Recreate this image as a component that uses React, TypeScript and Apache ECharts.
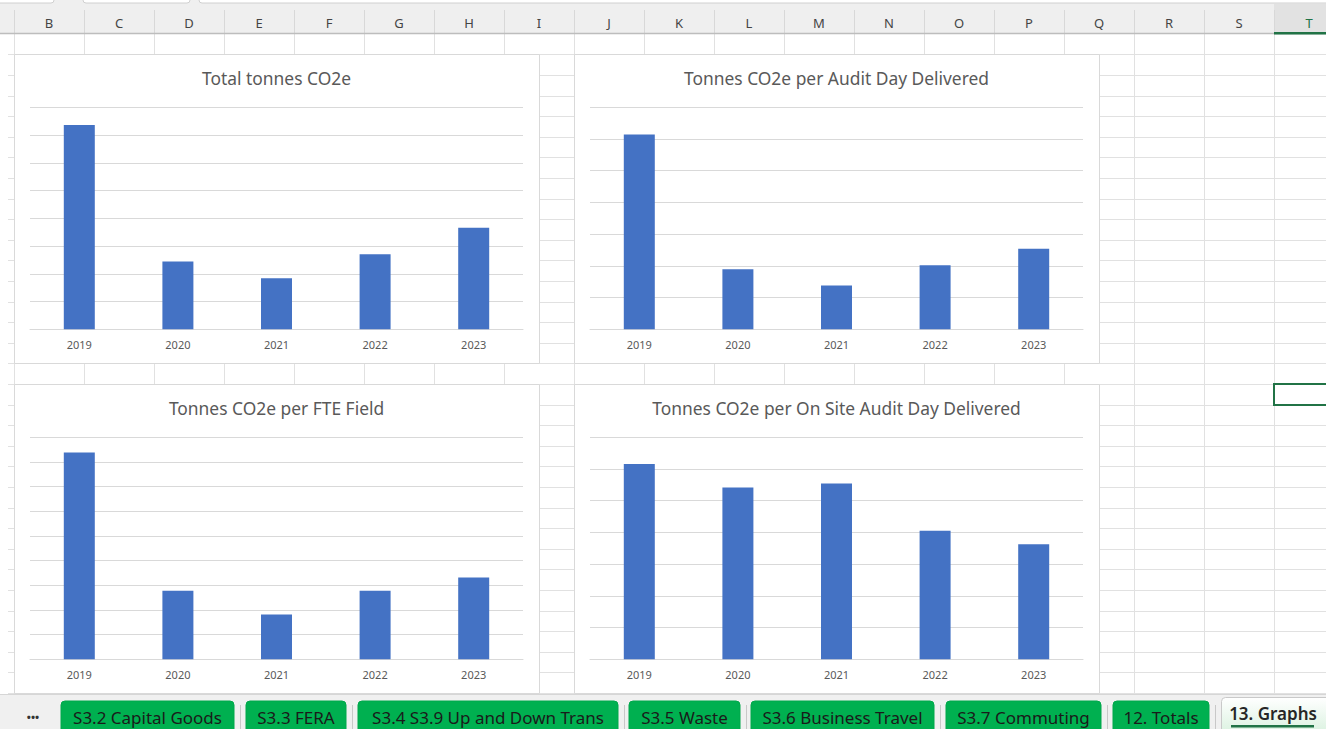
import React, { useEffect, useRef } from "react";
import * as echarts from "echarts";

// ---------------- data ----------------
const categories = ["2019", "2020", "2021", "2022", "2023"];
const totalTonnes = [368, 122, 92, 135, 183];
const perAuditDay = [0.307, 0.0945, 0.069, 0.101, 0.127];
const perFteField = [8.38, 2.78, 1.82, 2.78, 3.32];
const perOnSiteAuditDay = [0.616, 0.542, 0.554, 0.405, 0.363];

const chartTitles = [
  "Total tonnes CO2e",
  "Tonnes CO2e per Audit Day Delivered",
  "Tonnes CO2e per FTE Field",
  "Tonnes CO2e per On Site Audit Day Delivered",
];
const axisMax = [400, 0.35, 9, 0.7];
const axisInterval = [50, 0.05, 1, 0.1];

const columnLetters = ["B", "C", "D", "E", "F", "G", "H", "I", "J", "K", "L", "M", "N", "O", "P", "Q", "R", "S", "T"];
const sheetTabs = [
  "S3.2 Capital Goods",
  "S3.3 FERA",
  "S3.4 S3.9 Up and Down Trans",
  "S3.5 Waste",
  "S3.6 Business Travel",
  "S3.7 Commuting",
  "12. Totals",
];
const activeTab = "13. Graphs";

// ---------------- layout (positions, not data) ----------------
const W = 1326;
const H = 729;
const boxes = [
  { x: 14, y: 54, w: 525, h: 309 },
  { x: 574, y: 54, w: 525, h: 309 },
  { x: 14, y: 384, w: 525, h: 309 },
  { x: 574, y: 384, w: 525, h: 309 },
];
const tabPos = [
  [61, 234],
  [246, 346],
  [358, 618],
  [629, 740],
  [751, 934],
  [946, 1101],
  [1113, 1209],
];
const FONT = "'Noto Sans', 'DejaVu Sans', sans-serif";

function buildGraphics() {
  const els: any[] = [];
  // page background
  els.push({ type: "rect", z: -20, shape: { x: 0, y: 0, width: W, height: H }, style: { fill: "#ffffff" } });
  // cell grid: rows
  for (let k = 0; k < 32; k++) {
    const y = Math.round(54.3 + 20.6 * k) + 0.5;
    els.push({ type: "line", z: -19, shape: { x1: 8, y1: y, x2: W, y2: y }, style: { stroke: "#e1e1e1", lineWidth: 1 } });
  }
  // cell grid: columns
  for (let k = 0; k < 20; k++) {
    const x = 14 + 70 * k + 0.5;
    els.push({ type: "line", z: -19, shape: { x1: x, y1: 33, x2: x, y2: 694 }, style: { stroke: "#e1e1e1", lineWidth: 1 } });
  }
  // header strip
  els.push({ type: "rect", z: -18, shape: { x: 0, y: 0, width: W, height: 33 }, style: { fill: "#efefef" } });
  els.push({ type: "rect", z: -18, shape: { x: -4, y: -8, width: 58, height: 11, r: 3 }, style: { fill: "#ffffff", stroke: "#d0d0d0" } });
  els.push({ type: "rect", z: -18, shape: { x: 83, y: -8, width: 107, height: 11, r: 3 }, style: { fill: "#ffffff", stroke: "#d0d0d0" } });
  els.push({ type: "rect", z: -18, shape: { x: 199, y: -8, width: 1140, height: 11, r: 3 }, style: { fill: "#ffffff", stroke: "#d0d0d0" } });
  // active column header T
  els.push({ type: "rect", z: -17, shape: { x: 1274, y: 4, width: 60, height: 29 }, style: { fill: "#e2e2e2" } });
  for (let k = 0; k < 20; k++) {
    const x = 14 + 70 * k + 0.5;
    els.push({ type: "line", z: -17, shape: { x1: x, y1: 10, x2: x, y2: 33 }, style: { stroke: "#d8d8d8", lineWidth: 1 } });
  }
  els.push({ type: "line", z: -16, shape: { x1: 0, y1: 33.5, x2: W, y2: 33.5 }, style: { stroke: "#bdbdbd", lineWidth: 1.5 } });
  els.push({ type: "rect", z: -16, shape: { x: 1274, y: 32, width: 60, height: 2.5 }, style: { fill: "#217346" } });
  columnLetters.forEach((c, i) => {
    els.push({
      type: "text",
      z: -15,
      x: 49 + 70 * i,
      y: 23,
      style: {
        text: c,
        fill: c === "T" ? "#217346" : "#444444",
        font: `13px ${FONT}`,
        textAlign: "center",
        textVerticalAlign: "middle",
      },
    });
  });
  // selected cell
  els.push({ type: "rect", z: -14, shape: { x: 1274, y: 384, width: 60, height: 21 }, style: { fill: "none", stroke: "#217346", lineWidth: 2 } });

  // chart boxes + titles
  boxes.forEach((b, i) => {
    els.push({
      type: "rect",
      z: -10,
      shape: { x: b.x + 0.5, y: b.y + 0.5, width: b.w, height: b.h },
      style: { fill: "#ffffff", stroke: "#d9d9d9", lineWidth: 1 },
    });
    els.push({
      type: "text",
      z: 5,
      x: b.x + b.w / 2,
      y: b.y + 23.5,
      style: {
        text: chartTitles[i],
        fill: "#595959",
        font: `17.4px ${FONT}`,
        textAlign: "center",
        textVerticalAlign: "middle",
      },
    });
  });

  // sheet tab bar
  els.push({ type: "rect", z: 10, shape: { x: 0, y: 694, width: W, height: 40 }, style: { fill: "#f0f0f0" } });
  els.push({ type: "line", z: 10, shape: { x1: 0, y1: 694.5, x2: W, y2: 694.5 }, style: { stroke: "#d6d6d6", lineWidth: 1 } });
  els.push({
    type: "text",
    z: 11,
    x: 33,
    y: 716,
    style: { text: "•••", fill: "#333333", font: `bold 11px ${FONT}`, textAlign: "center", textVerticalAlign: "middle" },
  });
  sheetTabs.forEach((t, i) => {
    const [x1, x2] = tabPos[i];
    els.push({
      type: "rect",
      z: 11,
      shape: { x: x1, y: 701, width: x2 - x1, height: 34, r: [4, 4, 0, 0] },
      style: { fill: "#00b050", stroke: "#00a84a", lineWidth: 1 },
    });
    els.push({
      type: "text",
      z: 12,
      x: (x1 + x2) / 2,
      y: 717,
      style: { text: t, fill: "#1a1a1a", font: `17px ${FONT}`, textAlign: "center", textVerticalAlign: "middle" },
    });
    const sx = x2 + 6;
    els.push({ type: "line", z: 11, shape: { x1: sx + 0.5, y1: 705, x2: sx + 0.5, y2: 729 }, style: { stroke: "#c8c8c8", lineWidth: 1 } });
  });
  // active tab
  els.push({
    type: "rect",
    z: 11,
    shape: { x: 1221.5, y: 697.5, width: 110, height: 40, r: [4, 4, 0, 0] },
    style: {
      fill: new echarts.graphic.LinearGradient(0, 0, 0, 1, [
        { offset: 0, color: "#ffffff" },
        { offset: 1, color: "#d6f0dc" },
      ]),
      stroke: "#c9c9c9",
      lineWidth: 1,
    },
  });
  els.push({
    type: "text",
    z: 12,
    x: 1273,
    y: 713,
    style: { text: activeTab, fill: "#262626", font: `600 17px ${FONT}`, textAlign: "center", textVerticalAlign: "middle" },
  });
  els.push({ type: "rect", z: 12, shape: { x: 1231, y: 725, width: 83, height: 2.5 }, style: { fill: "#217346" } });
  return els;
}

const seriesData = [totalTonnes, perAuditDay, perFteField, perOnSiteAuditDay];

export default function App() {
  const ref = useRef<HTMLDivElement>(null);
  useEffect(() => {
    if (!ref.current) return;
    const chart = echarts.init(ref.current, null, { renderer: "svg" });
    const grids = boxes.map((b) => ({
      left: b.x + 16,
      top: b.y + 53.3,
      width: 493,
      height: 222,
      containLabel: false,
    }));
    const xAxes = boxes.map((_, i) => ({
      type: "category",
      gridIndex: i,
      data: categories,
      axisTick: { show: false },
      axisLine: { show: true, lineStyle: { color: "#d9d9d9", width: 1 } },
      axisLabel: { color: "#595959", fontSize: 11, fontFamily: FONT, margin: 10 },
    }));
    const yAxes = boxes.map((_, i) => ({
      type: "value",
      gridIndex: i,
      min: 0,
      max: axisMax[i],
      interval: axisInterval[i],
      axisLabel: { show: false },
      axisLine: { show: false },
      axisTick: { show: false },
      splitLine: { show: true, lineStyle: { color: "#d9d9d9", width: 1 } },
    }));
    const series = seriesData.map((d, i) => ({
      type: "bar",
      name: chartTitles[i],
      xAxisIndex: i,
      yAxisIndex: i,
      data: d,
      barWidth: 31,
      itemStyle: { color: "#4472c4" },
    }));
    chart.setOption({
      animation: false,
      backgroundColor: "#ffffff",
      textStyle: { fontFamily: FONT },
      graphic: { elements: buildGraphics() },
      grid: grids,
      xAxis: xAxes,
      yAxis: yAxes,
      series,
    });
    return () => chart.dispose();
  }, []);
  return <div ref={ref} style={{ position: "fixed", left: 0, top: 0, width: W, height: H }} />;
}
